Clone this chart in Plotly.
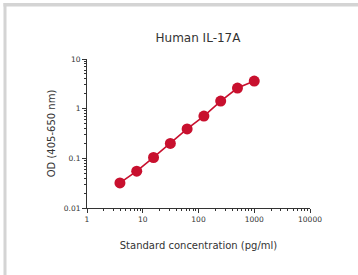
import plotly.graph_objects as go

conc = [3.9, 7.8, 15.6, 31.25, 62.5, 125, 250, 500, 1000]
od = [0.032, 0.055, 0.104, 0.2, 0.39, 0.71, 1.42, 2.6, 3.6]
x_ticks = [1, 10, 100, 1000, 10000]
x_tick_labels = ["1", "10", "100", "1000", "10000"]
y_ticks = [0.01, 0.1, 1, 10]
y_tick_labels = ["0.01", "0.1", "1", "10"]

W, H = 358, 275
L, R, T, B = 87, 48, 59, 67
pw, ph = W - L - R, H - T - B

def px_x(p):
    return (p - L) / pw

def px_y(p):
    return (H - B - p) / ph

red = "#c8102e"
fig = go.Figure(go.Scatter(
    x=conc, y=od, mode="lines+markers",
    line=dict(color=red, width=1.6),
    marker=dict(color=red, size=11),
    showlegend=False, cliponaxis=False,
))

axis_common = dict(
    type="log", showgrid=False, zeroline=False, showline=True,
    linecolor="#333", linewidth=1, ticks="outside", ticklen=4,
    tickcolor="#333", tickfont=dict(family="DejaVu Sans", size=7.5, color="#333"),
)
fig.update_xaxes(
    **axis_common, range=[0, 4], tickvals=x_ticks, ticktext=x_tick_labels,
    minor=dict(ticks="outside", ticklen=2, tickcolor="#333", dtick="D1", showgrid=False),
    title=dict(text="Standard concentration (pg/ml)", standoff=18,
               font=dict(family="DejaVu Sans", size=10, color="#333")),
)
fig.update_yaxes(
    **axis_common, range=[-2, 1], tickvals=y_ticks, ticktext=y_tick_labels,
    minor=dict(ticks="outside", ticklen=2, tickcolor="#333", dtick="D1", showgrid=False),
    title=dict(text="OD (405-650 nm)", standoff=6,
               font=dict(family="DejaVu Sans", size=10, color="#333")),
)

band = "#d4d4d4"
fig.update_layout(
    width=W, height=H,
    margin=dict(l=L, r=R, t=T, b=B),
    paper_bgcolor="white", plot_bgcolor="white",
    title=dict(text="Human IL-17A", x=198 / W, xanchor="center",
               y=1 - 38 / H, yanchor="middle",
               font=dict(family="DejaVu Sans", size=12, color="#333")),
    shapes=[
        dict(type="rect", xref="paper", yref="paper", x0=px_x(3.5), x1=px_x(6.5),
             y0=px_y(280), y1=px_y(3), fillcolor=band, line=dict(width=0), layer="above"),
        dict(type="rect", xref="paper", yref="paper", x0=px_x(3.5), x1=px_x(365),
             y0=px_y(6.5), y1=px_y(3), fillcolor=band, line=dict(width=0), layer="above"),
    ],
)

fig.write_html(
    "out.html",
    config={"displayModeBar": False},
    post_script="document.body.style.margin='0';document.body.style.overflow='hidden';",
)
